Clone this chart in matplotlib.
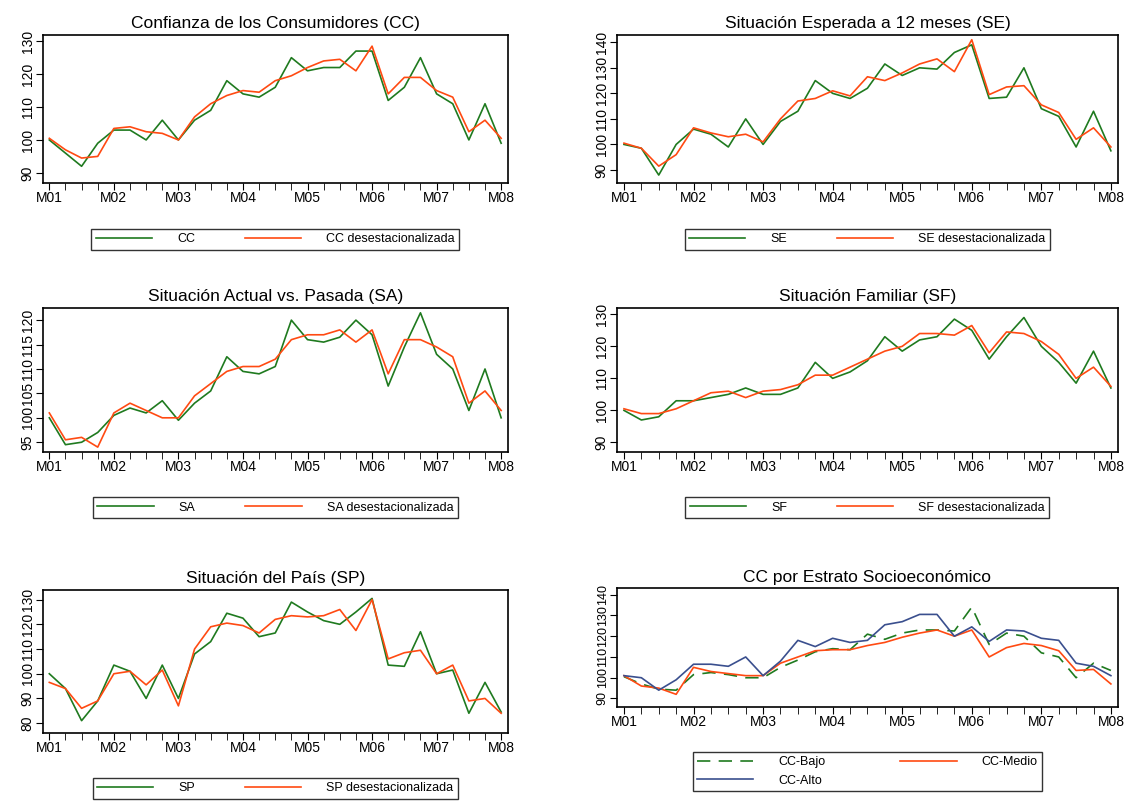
import matplotlib
matplotlib.use("Agg")
import matplotlib.pyplot as plt

plt.rcParams['font.family'] = ['Liberation Sans', 'DejaVu Sans']

months = ["M01", "M02", "M03", "M04", "M05", "M06", "M07", "M08"]

cc = [100, 96, 92, 99, 103, 103, 100, 106, 100, 106, 109, 118, 114, 113, 116, 125, 121, 122, 122, 127, 127, 112, 116, 125, 114, 111, 100, 111, 99]
cc_d = [100.5, 97, 94.5, 95, 103.5, 104, 102.5, 102, 100, 107, 111, 113.5, 115, 114.5, 118, 119.5, 122, 124, 124.5, 121, 128.5, 114, 119, 119, 115, 113, 102.5, 106, 100.5]
se = [100, 98.5, 88, 100, 106, 104, 99, 110, 100, 109, 113, 125, 120, 118, 122, 131.5, 127, 130, 129.5, 136, 139, 118, 118.5, 130, 114, 111, 99, 113, 97.5]
se_d = [100.5, 98.5, 91.5, 96, 106.5, 104.5, 103, 104, 101, 110, 117, 118, 121, 119, 126.5, 125, 128, 131.5, 133.5, 128.5, 141, 119.5, 122.5, 123, 115.5, 112.5, 102, 106.5, 99]
sa = [100, 94.5, 95, 97, 100.5, 102, 101, 103.5, 99.5, 103, 105.5, 112.5, 109.5, 109, 110.5, 120, 116, 115.5, 116.5, 120, 117, 106.5, 114.5, 121.5, 113, 110, 101.5, 110, 100]
sa_d = [101, 95.5, 96, 94, 101, 103, 101.5, 100, 100, 104.5, 107, 109.5, 110.5, 110.5, 112, 116, 117, 117, 118, 115.5, 118, 109, 116, 116, 114.5, 112.5, 103, 105.5, 101.5]
sf = [100, 97, 98, 103, 103, 104, 105, 107, 105, 105, 107, 115, 110, 112, 115.5, 123, 118.5, 122, 123, 128.5, 125, 116, 123, 129, 120, 115, 108.5, 118.5, 107]
sf_d = [100.5, 99, 99, 100.5, 103, 105.5, 106, 104, 106, 106.5, 108, 111, 111, 113.5, 116, 118.5, 120, 124, 124, 123.5, 126.5, 118, 124.5, 124, 121.5, 117.5, 110, 113.5, 107.5]
sp = [100, 94, 81, 89, 103.5, 101, 90, 103.5, 90, 108, 113, 124.5, 122.5, 115, 116.5, 129, 125, 121.5, 120, 125, 130.5, 103.5, 103, 117, 100, 101.5, 84, 96.5, 84.5]
sp_d = [96.5, 94, 86, 89, 100, 101, 95.5, 101.5, 87, 110, 119, 120.5, 119.5, 116.5, 122, 123.5, 123, 123.5, 126, 117.5, 130, 106, 108.5, 109.5, 100, 103.5, 89, 90, 84]
bajo = [100.5, 97, 94.5, 94, 101.5, 102.5, 101.5, 100, 100, 105, 108.5, 112.5, 114, 113.5, 121, 118.5, 121.5, 123, 123, 122.5, 134, 116, 121.5, 120, 112, 110, 100, 107, 103.5]
medio = [101, 96, 95, 92, 105, 103, 102, 101, 101, 107, 110, 113, 113.5, 113.5, 115.5, 117, 119.5, 121.5, 123, 120, 123, 110, 114.5, 116.5, 115.5, 113, 103.5, 104, 97]
alto = [101, 100, 94, 99, 106.5, 106.5, 105.5, 110, 101, 108, 118, 115, 119, 117, 118, 125.5, 127, 130.5, 130.5, 120, 124.5, 117.5, 123, 122.5, 119, 118, 107, 105.5, 101]

GREEN = "#1f7a1f"
RED = "#ff4a12"
BLUE = "#3a4f8e"

fig = plt.figure(figsize=(11.28, 8.05), dpi=100)

def setup(ax, title, yticks, ylim, yfs=10):
    n = len(cc)
    x = range(n)
    ax.set_xlim(-0.4, n - 1 + 0.4)
    ax.set_xticks(list(x), minor=True)
    ax.set_xticks(list(range(0, n, 4)))
    ax.set_xticklabels(months, fontsize=10)
    ax.tick_params(axis='x', which='both', length=5, direction='out', pad=1)
    ax.set_yticks(yticks)
    ax.set_yticklabels([str(t) for t in yticks], rotation=90, va='center', fontsize=yfs)
    ax.tick_params(axis='y', length=5, pad=1)
    ax.set_ylim(*ylim)
    ax.set_title(title, fontsize=12.5, pad=5)
    for s in ax.spines.values():
        s.set_linewidth(1.2)

def legend(ax, handles, labels, y, ncol=2, cs=4):
    lg = ax.legend(handles, labels, loc='upper center', bbox_to_anchor=(0.5, y), ncol=ncol,
                   frameon=True, fancybox=False, edgecolor='black', handlelength=4.5,
                   columnspacing=cs, fontsize=9, borderpad=0.35, handletextpad=2.0)
    lg.get_frame().set_linewidth(1.0)

panels = [
    ([0.038, 0.773, 0.412, 0.184], "Confianza de los Consumidores (CC)", cc, cc_d, "CC", [90, 100, 110, 120, 130], (87, 132)),
    ([0.547, 0.773, 0.444, 0.184], "Situación Esperada a 12 meses (SE)", se, se_d, "SE", [90, 100, 110, 120, 130, 140], (85, 143)),
    ([0.038, 0.4385, 0.412, 0.179], "Situación Actual vs. Pasada (SA)", sa, sa_d, "SA", [95, 100, 105, 110, 115, 120], (93, 122.5)),
    ([0.547, 0.4385, 0.444, 0.179], "Situación Familiar (SF)", sf, sf_d, "SF", [90, 100, 110, 120, 130], (87, 132)),
    ([0.038, 0.0894, 0.412, 0.178], "Situación del País (SP)", sp, sp_d, "SP", [80, 90, 100, 110, 120, 130], (76, 134)),
]

for rect, title, a, b, name, yt, yl in panels:
    ax = fig.add_axes(rect)
    x = range(len(a))
    l1, = ax.plot(x, a, color=GREEN, lw=1.2)
    l2, = ax.plot(x, b, color=RED, lw=1.2)
    setup(ax, title, yt, yl)
    legend(ax, [l1, l2], [name, name + " desestacionalizada"], -0.27)

ax = fig.add_axes([0.547, 0.122, 0.444, 0.147])
x = range(len(bajo))
l1, = ax.plot(x, bajo, color=GREEN, lw=1.2, dashes=(8, 5))
l2, = ax.plot(x, medio, color=RED, lw=1.2)
l3, = ax.plot(x, alto, color=BLUE, lw=1.2)
setup(ax, "CC por Estrato Socioeconómico", [90, 100, 110, 120, 130, 140], (86, 143), yfs=9)
legend(ax, [l1, l3, l2], ["CC-Bajo", "CC-Alto", "CC-Medio"], -0.33, cs=6)

fig.savefig("out.png", dpi=100)
